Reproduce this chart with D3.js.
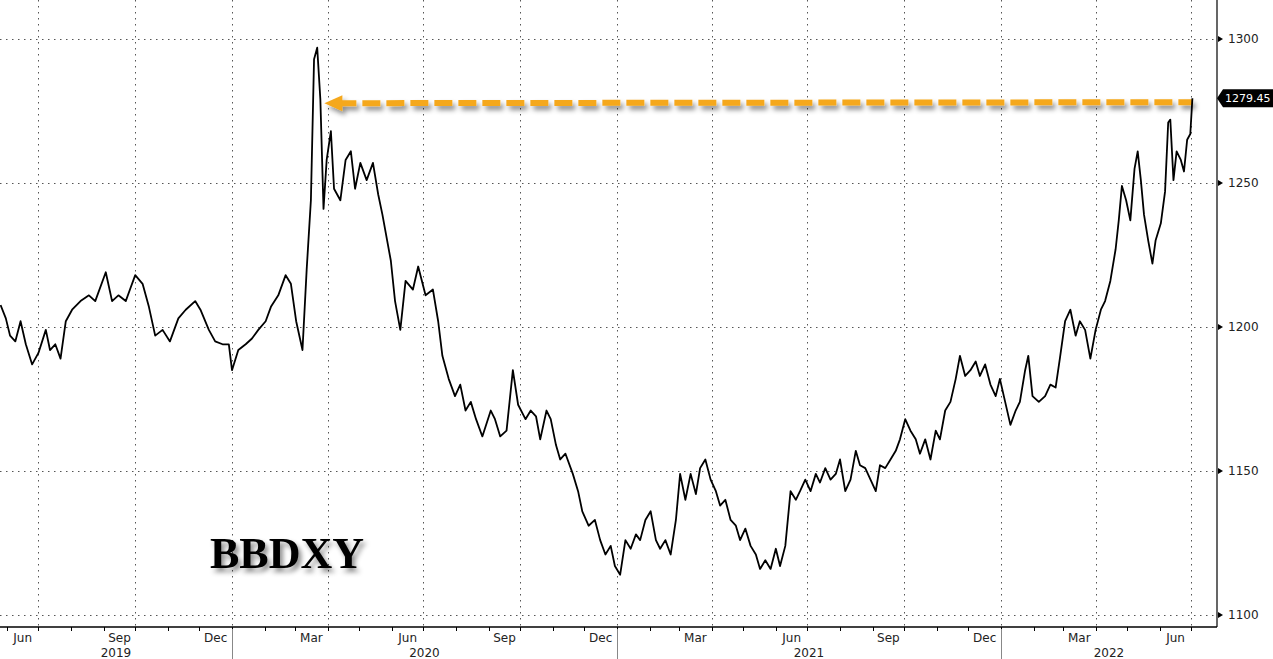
<!DOCTYPE html>
<html><head><meta charset="utf-8">
<script src="https://cdn.jsdelivr.net/npm/d3@7"></script>
<style>body{margin:0;background:#fff}svg{display:block;font-family:Tahoma,"DejaVu Sans",sans-serif}</style>
</head><body><svg id="c" width="1273" height="659"></svg>
<script>
// days since 2019-07-01, BBDXY level
const dayOffsets = [-36,-31,-27,-22,-17,-12,-6,0,7,11,16,21,26,32,40,48,54,64,70,76,83,87,92,99,105,111,118,125,133,140,149,154,162,168,175,181,184,190,197,203,209,216,221,228,235,240,245,251,255,259,262,265,268,271,274,278,281,287,292,297,301,306,312,318,323,327,335,339,344,349,356,361,368,375,380,384,390,396,401,406,411,416,422,430,434,439,445,451,456,463,468,473,477,483,487,492,496,501,508,513,517,523,529,534,539,544,548,553,558,563,568,572,577,582,587,591,596,601,606,610,615,620,625,629,634,639,644,648,653,658,663,667,672,677,682,686,691,696,701,705,710,715,720,724,729,734,739,743,748,753,758,762,767,772,777,781,786,791,796,800,805,810,815,819,824,829,834,838,843,848,853,857,862,867,872,876,881,886,891,895,900,905,910,914,919,924,929,933,938,941,945,951,957,962,967,971,976,981,986,990,995,1000,1005,1010,1014,1019,1024,1027,1030,1034,1038,1042,1045,1048,1051,1055,1059,1062,1067,1071,1074,1076,1079,1082,1086,1089,1092,1095,1097];
const values = [1207.6,1203,1197,1195,1202,1194,1187,1191,1199,1192,1194,1189,1202,1206,1209,1211,1209,1219,1209,1211,1209,1213,1218,1215,1207,1197,1199,1195,1203,1206,1209,1206,1199,1195,1194,1194,1185,1192,1194,1196,1199,1202,1207,1211,1218,1215,1202,1192,1220,1244,1293,1297,1279,1241,1258,1268,1248,1244,1258,1261,1248,1257,1251,1257,1246,1239,1223,1209,1199,1216,1213,1221,1211,1213,1202,1190,1182,1176,1180,1171,1174,1168,1162,1171,1168,1162,1164,1185,1173,1168,1171,1169,1161,1171,1168,1159,1154,1156,1149,1143,1136,1131,1133,1126,1121,1124,1117,1114,1126,1123,1128,1126,1133,1136,1126,1123,1126,1121,1133,1149,1140,1149,1142,1151,1154,1147,1143,1138,1140,1133,1131,1126,1130,1124,1121,1116,1119,1116,1123,1117,1124,1143,1140,1143,1147,1143,1149,1146,1151,1147,1149,1154,1143,1147,1157,1152,1151,1147,1143,1152,1151,1154,1157,1161,1168,1164,1161,1156,1161,1154,1164,1161,1171,1174,1182,1190,1183,1185,1188,1183,1187,1180,1176,1182,1174,1166,1171,1174,1185,1190,1176,1174,1176,1180,1179,1189,1202,1206,1197,1202,1199,1189,1199,1206,1209,1216,1227,1237,1249,1244,1237,1255,1261,1251,1239,1230,1222,1230,1236,1247,1271,1272,1251,1261,1258,1254,1265,1267,1279.45];
const yTicks = [1100,1150,1200,1250,1300];
const monthLabels = ["Jan","Feb","Mar","Apr","May","Jun","Jul","Aug","Sep","Oct","Nov","Dec"];
const years = [2019,2020,2021,2022];
const lastValue = 1279.45;
const peakDay = 268;
const title = "BBDXY";

const svg = d3.select("#c");
const base = new Date(2019,6,1);
const data = dayOffsets.map((d,i)=>({date:d3.timeDay.offset(base,d), v:values[i]}));
const x = d3.scaleTime().domain([new Date(2020,0,1), new Date(2021,0,1)]).range([232,617]);
const y = d3.scaleLinear().domain([1100,1300]).range([615,39]);
const axisX = 1217, axisY = 627;
const x0 = x.invert(0), x1 = x.invert(axisX);

// grid
svg.append("g").selectAll("line").data(yTicks).join("line")
  .attr("x1",0).attr("x2",axisX).attr("y1",d=>y(d)+0.5).attr("y2",d=>y(d)+0.5)
  .attr("stroke","#555").attr("stroke-dasharray","1.5,4.5");
const quarters = d3.timeMonth.every(3).range(x0,x1);
svg.append("g").selectAll("line").data(quarters).join("line")
  .attr("x1",d=>Math.round(x(d))+0.5).attr("x2",d=>Math.round(x(d))+0.5).attr("y1",0).attr("y2",axisY)
  .attr("stroke","#555").attr("stroke-dasharray","1.5,4.5");

// axes
svg.append("line").attr("x1",0).attr("x2",axisX).attr("y1",axisY).attr("y2",axisY).attr("stroke","#000").attr("stroke-width",1.5);
svg.append("line").attr("x1",axisX).attr("x2",axisX).attr("y1",0).attr("y2",axisY).attr("stroke","#000").attr("stroke-width",1.2);
const months = d3.timeMonth.range(x0,x1);
svg.append("g").selectAll("line").data(months).join("line")
  .attr("x1",d=>Math.round(x(d))+0.5).attr("x2",d=>Math.round(x(d))+0.5).attr("y1",axisY).attr("y2",axisY+4).attr("stroke","#000");
svg.append("g").selectAll("text").data(d3.timeMonth.range(d3.timeMonth.floor(x0),x1).filter(d=>d.getMonth()%3===2)).join("text")
  .attr("x",d=>(x(d)+x(d3.timeMonth.offset(d,1)))/2).attr("y",642).attr("text-anchor","middle")
  .attr("font-size",12).attr("fill","#222").text(d=>monthLabels[d.getMonth()]);
svg.append("g").selectAll("line").data(years.slice(1)).join("line")
  .attr("x1",d=>Math.round(x(new Date(d,0,1)))+0.5).attr("x2",d=>Math.round(x(new Date(d,0,1)))+0.5)
  .attr("y1",axisY+2).attr("y2",659).attr("stroke","#888");
svg.append("g").selectAll("text").data(years).join("text")
  .attr("x",d=>{const a=Math.max(0,x(new Date(d,0,1))), b=Math.min(axisX,x(new Date(d+1,0,1))); return (a+b)/2;})
  .attr("y",657).attr("text-anchor","middle").attr("font-size",12).attr("fill","#222").text(d=>d);

// right axis labels
const yl = svg.append("g").selectAll("g").data(yTicks).join("g").attr("transform",d=>`translate(${axisX},${y(d)})`);
yl.append("path").attr("d","M1,-3L6,0L1,3Z").attr("fill","#000");
yl.append("text").attr("x",11).attr("y",4).attr("font-size",12).attr("fill","#222").text(d=>d);

// shadow filter
const defs = svg.append("defs");
const f = defs.append("filter").attr("id","sh").attr("x","-20%").attr("y","-50%").attr("width","140%").attr("height","200%");
f.append("feDropShadow").attr("dx",3).attr("dy",4).attr("stdDeviation",2.5).attr("flood-color","#000").attr("flood-opacity",0.45);

// arrow
const ay1 = y(lastValue)+4, ay0 = y(lastValue)+5;
const ax0 = x(d3.timeDay.offset(base,peakDay))+4, ax1 = x(data[data.length-1].date);
const ag = svg.append("g").attr("filter","url(#sh)");
ag.append("line").attr("x1",ax0+14).attr("x2",ax1).attr("y1",ay0).attr("y2",ay1)
  .attr("stroke","#f5a81c").attr("stroke-width",6).attr("stroke-dasharray","18,6");
ag.append("path").attr("d",`M${ax0},${ay0}L${ax0+18},${ay0-8}L${ax0+18},${ay0+8}Z`).attr("fill","#f5a81c");

// line
svg.append("path").datum(data).attr("fill","none").attr("stroke","#000").attr("stroke-width",1.8)
  .attr("stroke-linejoin","round").attr("d",d3.line().x(d=>x(d.date)).y(d=>y(d.v)));

// last value tag
const lg = svg.append("g").attr("transform",`translate(${axisX},${y(lastValue)})`);
lg.append("path").attr("d","M0,0L6,-9L56,-9L56,9L6,9Z").attr("fill","#000");
lg.append("text").attr("x",8).attr("y",4).attr("font-size",11).attr("fill","#fff").text(lastValue.toFixed(2));

// title
svg.append("text").attr("x",287).attr("y",568).attr("text-anchor","middle")
  .attr("font-family","'Liberation Serif','DejaVu Serif',serif").attr("font-weight","bold").attr("font-size",44)
  .attr("filter","url(#sh)").text(title);
</script></body></html>
